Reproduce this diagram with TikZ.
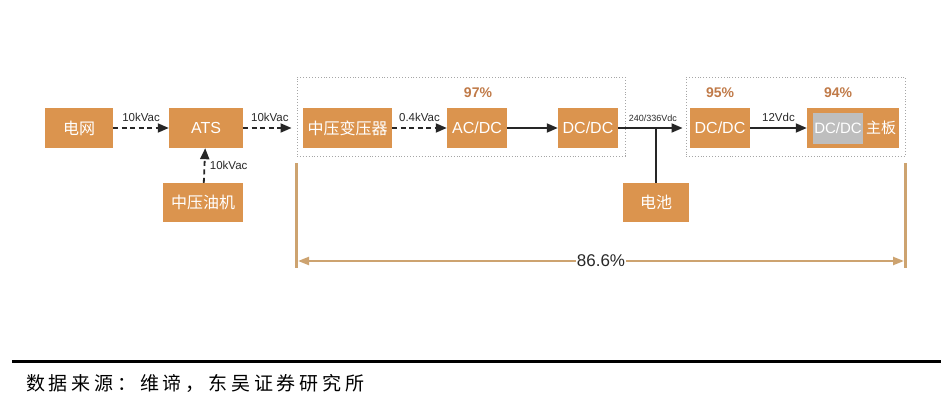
\documentclass[tikz,border=0pt]{standalone}
\usepackage{fontspec}
\setmainfont{Liberation Sans}
\newfontfamily\cjk{Noto Sans CJK SC}
\newfontfamily\cjkfoot[LetterSpace=20]{Noto Sans CJK SC}
\usepackage{tikz}
\usetikzlibrary{
    positioning,
    arrows.meta
}

\definecolor{boxorange}{RGB}{219,148,78}
\definecolor{pctbrown}{RGB}{192,122,72}
\definecolor{dimtan}{RGB}{205,163,112}
\definecolor{innergray}{RGB}{190,190,190}
\definecolor{labelgray}{RGB}{40,40,40}

\begin{document}
\begin{tikzpicture}[
    x=1pt, y=-1pt,
    block/.style={
        rectangle,
        fill=boxorange,
        text=white,
        align=center,
        minimum height=40pt,
        inner sep=0pt,
        font=\fontsize{16}{18}\selectfont
    },
    group/.style={
        rectangle,
        draw=gray!70,
        dotted,
        line width=0.9pt,
        inner sep=0pt
    },
    pct/.style={
        text=pctbrown,
        font=\fontsize{14}{16}\selectfont\bfseries
    },
    volt/.style={
        text=labelgray,
        inner sep=1.5pt,
        yshift=4pt,
        font=\fontsize{11.5}{13}\selectfont
    },
    arrow/.style={
        -{Triangle[length=11pt,width=9pt]},
        line width=1.8pt,
        black!85
    },
    dasharrow/.style={
        arrow,
        dash pattern=on 5pt off 3.5pt
    },
    dimline/.style={
        dimtan,
        line width=2.2pt
    }
]

\useasboundingbox (0,0) rectangle (949,403);

% ============================================================
% INPUT SIDE
% ============================================================

\node[block, minimum width=68pt] (grid) at (79,128) {\cjk 电网};
\node[block, minimum width=74pt] (ats) at (206,128) {ATS};
\node[block, minimum width=80pt, minimum height=39pt] (genset)
    at (203,202.5) {\cjk 中压油机};

% ============================================================
% HVDC GROUP
% ============================================================

\node[group, minimum width=328pt, minimum height=79pt] (hvdc) at (461,116.5) {};

\node[block, minimum width=89pt] (trafo) at (347.5,128) {\cjk 中压变压器};
\node[block, minimum width=60pt] (acdc) at (477,128) {AC/DC};
\node[block, minimum width=60pt] (dcdcA) at (588,128) {DC/DC};

\node[pct] (effacdc) at (478,93) {97\%};

\node[block, minimum width=66pt, minimum height=39pt] (battery)
    at (656,202.5) {\cjk 电池};

% ============================================================
% SERVER GROUP
% ============================================================

\node[group, minimum width=219pt, minimum height=79pt] (server) at (795.5,116.5) {};

\node[block, minimum width=60pt] (dcdcB) at (720,128) {DC/DC};
\node[block, minimum width=92pt] (board) at (853,128) {};
\node[fill=innergray, text=white, minimum width=50pt, minimum height=31pt,
      inner sep=0pt, font=\fontsize{15}{17}\selectfont] (vrm)
    at (838,128.5) {DC/DC};
\node[text=white, inner sep=0pt, font=\fontsize{15}{17}\selectfont\cjk] (boardtxt)
    at (881,128) {主板};

\node[pct] (effdcdc) at (720,93) {95\%};
\node[pct] (effvrm) at (838,93) {94\%};

% ============================================================
% CONNECTIONS
% ============================================================

\draw[dasharrow] (grid) -- node[volt, above] {10kVac} (ats);
\draw[dasharrow, shorten >=5pt] (ats) -- node[volt, above] {10kVac} (hvdc.west |- ats.east);
\draw[dasharrow] (genset) -- node[volt, right, xshift=3pt, yshift=-4pt] {10kVac} (ats);
\draw[dasharrow] (trafo) -- node[volt, above] {0.4kVac} (acdc);
\draw[arrow] (acdc) -- (dcdcA);
\draw[arrow, shorten >=3pt] (dcdcA) -- node[volt, above, font=\fontsize{9}{11}\selectfont, xshift=1pt] {240/336Vdc} (server.west |- dcdcA.east);
\draw[line width=1.8pt, black!85] (battery) -- (battery.north |- dcdcA.east);
\draw[arrow] (dcdcB) -- node[volt, above] {12Vdc} (board);

% ============================================================
% OVERALL EFFICIENCY
% ============================================================

\coordinate (dimL) at (297,261);
\coordinate (dimR) at (905,261);
\draw[dimline] ([yshift=-7pt]hvdc.south west) -- ([yshift=-112pt]hvdc.south west);
\draw[dimline] ([yshift=-7pt]server.south east) -- ([yshift=-112pt]server.south east);
\draw[dimline, {Triangle[length=11pt,width=8pt]}-{Triangle[length=11pt,width=8pt]}]
    ([xshift=1pt]dimL) -- node[fill=white, inner sep=1pt, text=labelgray,
    font=\fontsize{17}{19}\selectfont] (total) {86.6\%} ([xshift=-1pt]dimR);

% ============================================================
% SOURCE NOTE
% ============================================================

\draw[line width=3pt] (12,361.5) -- (941,361.5);
\node[anchor=west, inner sep=0pt, font=\fontsize{19}{21}\selectfont\cjkfoot] (source)
    at (26,383) {数据来源：维谛，东吴证券研究所};

\end{tikzpicture}
\end{document}
